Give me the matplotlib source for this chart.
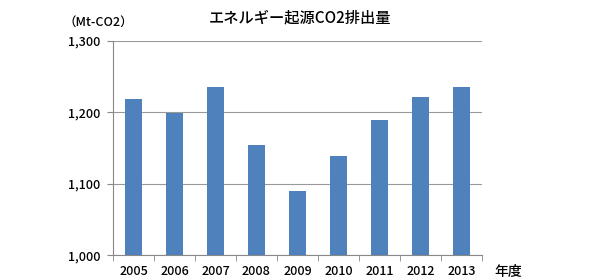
import matplotlib
matplotlib.use('Agg')
import matplotlib.pyplot as plt
import numpy as np

plt.rcParams['font.family'] = ['Noto Sans CJK JP', 'DejaVu Sans']

# データ
years = ['2005', '2006', '2007', '2008', '2009', '2010', '2011', '2012', '2013']
emissions = [1219, 1199, 1235, 1154, 1090, 1139, 1189, 1221, 1235]
y_ticks = [1000, 1100, 1200, 1300]
y_tick_labels = ['1,000', '1,100', '1,200', '1,300']

fig = plt.figure(figsize=(5.95, 2.8), dpi=100)
ax = fig.add_axes([0.19, 0.089, 0.62, 0.765])

x = np.arange(len(years))
ax.bar(x, [e - 1000 for e in emissions], bottom=1000, width=0.4, color='#4f81bd', zorder=3)

ax.set_xlim(-0.5, len(years) - 0.5)
ax.set_ylim(1000, 1300)
ax.set_yticks(y_ticks)
ax.set_yticklabels(y_tick_labels, fontsize=9, fontweight='medium')
ax.set_xticks(x)
ax.set_xticklabels(years, fontsize=9, fontweight='medium')
ax.tick_params(axis='x', length=0, pad=7)
ax.tick_params(axis='y', length=4, color='#888888', pad=5)

# 区切りの目盛り
ax.set_xticks(np.arange(len(years) + 1) - 0.5, minor=True)
ax.tick_params(axis='x', which='minor', length=4, color='#888888')

ax.grid(axis='y', color='#999999', linewidth=0.8, zorder=0)
for spine in ['top', 'right']:
    ax.spines[spine].set_visible(False)
ax.spines['left'].set_color('#888888')
ax.spines['bottom'].set_color('#888888')

fig.text(0.505, 0.935, 'エネルギー起源CO2排出量', ha='center', va='center', fontsize=11, fontweight='medium')
fig.text(0.165, 0.92, '（Mt-CO2）', ha='center', va='center', fontsize=9, fontweight='medium')
fig.text(0.855, 0.03, '年度', ha='center', va='center', fontsize=10, fontweight='medium')

plt.savefig('out.png', dpi=100)
plt.close()
